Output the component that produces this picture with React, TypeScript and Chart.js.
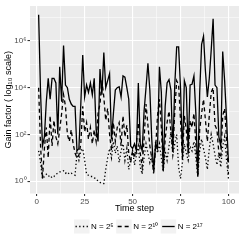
import React, { useEffect, useRef } from 'react';
import { Chart, registerables } from 'chart.js';

Chart.register(...registerables);

// Time steps 1..100 (index axis)
const steps: number[] = Array.from({ length: 100 }, (_, i) => i + 1);

// Gain factor, N = 2^5 (dotted)
const gainN5: number[] = [
  20, 6.3, 1.3, 1.6, 2, 1.6, 1.8, 1.4, 1.6, 2,
  2.2, 2.5, 2.5, 2.8, 2.2, 2.5, 2, 2.2, 2, 1.8,
  16, 7.9, 20, 25, 7.9, 2, 1.8, 1.6, 1.6, 1.4,
  1.3, 1, 0.9, 0.8, 0.8, 3.2, 10, 25, 10, 50,
  16, 32, 6.3, 20, 40, 7.9, 25, 3.2, 7.9, 20,
  5, 13, 32, 4, 2, 10, 40, 16, 6.3, 13,
  2, 50, 16, 40, 10, 2.5, 20, 7.9, 32, 130,
  13, 40, 100, 4, 1.3, 6.3, 40, 16, 7.9, 32,
  20, 50, 10, 1.6, 20, 63, 25, 10, 3.2, 25,
  100, 40, 13, 5, 16, 4, 32, 79, 7.9, 1.3,
];

// Gain factor, N = 2^10 (dashed)
const gainN10: number[] = [
  1e4, 32, 1.3, 25, 200, 10, 630, 32, 400, 79,
  40, 160, 800, 5e3, 1.6e3, 100, 50, 160, 40, 16,
  10, 13, 40, 1.6e3, 130, 320, 63, 200, 40, 160,
  50, 800, 2e3, 2e4, 4e3, 400, 1.3e3, 100, 20, 320,
  50, 200, 320, 32, 630, 79, 250, 16, 6.3, 20,
  10, 40, 320, 16, 4, 63, 2e3, 250, 32, 10,
  2.5, 25, 630, 3.2e3, 200, 3.2, 63, 320, 1e3, 130,
  16, 1e3, 2e4, 1.3e4, 400, 7.9, 630, 160, 13, 400,
  200, 800, 40, 1.6, 160, 800, 3.2e3, 400, 50, 630,
  6.3e3, 1e4, 250, 160, 16, 10, 630, 1.3e3, 63, 2,
];

// Gain factor, N = 2^17 (solid)
const gainN17: number[] = [
  1.3e7, 6.3e3, 32, 79, 2.5e3, 2.5e4, 3.2e3, 2.5e4, 2.5e4, 1.6e4,
  100, 7.9e4, 2.5e3, 6.3e5, 1.3e4, 1e4, 3.2e3, 2e3, 1.6e3, 1.6e3,
  20, 25, 2e3, 2.5e5, 4e3, 1.3e4, 6.3e3, 1.6e4, 5e3, 2.5e4,
  160, 50, 6.3e4, 5e3, 3.2e5, 1e4, 2e4, 4e4, 63, 800,
  7.9e3, 1e4, 1.1e4, 4e3, 3.2e4, 2.8e4, 1e4, 3.2e3, 32, 25,
  40, 20, 1.6e4, 40, 20, 1e3, 1e4, 1.1e5, 7.9e3, 63,
  2.8, 40, 25, 7.9e4, 6.3e3, 2.8, 1.6e3, 1.6e4, 2.2e4, 7.9e3,
  20, 1.3e4, 5.6e5, 5.6e5, 1e4, 13, 2e4, 1e4, 20, 1.3e4,
  1.4e4, 3.2e4, 800, 1.6, 6.3e3, 7.1e5, 1.6e6, 5e4, 4e3, 2.5e4,
  4e5, 8.9e6, 1.3e4, 1e4, 79, 32, 3.5e5, 2e4, 500, 6.3,
];

const seriesLabels: string[] = ['N = 2\u2075', 'N = 2\u00B9\u2070', 'N = 2\u00B9\u2077'];
const xTickValues: number[] = [0, 12.5, 25, 37.5, 50, 62.5, 75, 87.5, 100];
const yTickValues: number[] = [1, 10, 100, 1e3, 1e4, 1e5, 1e6, 1e7];

const SUP: Record<string, string> = {
  '0': '\u2070', '1': '\u00B9', '2': '\u00B2', '3': '\u00B3', '4': '\u2074',
  '5': '\u2075', '6': '\u2076', '7': '\u2077', '8': '\u2078', '9': '\u2079', '-': '\u207B',
};
const sup = (s: string) => s.split('').map((c) => SUP[c] ?? c).join('');

const FONT = '"Liberation Sans", Arial, sans-serif';
const DASHES: number[][] = [[1.3, 2.4], [4, 3], []];

const bgPlugin = {
  id: 'ggBackground',
  beforeDraw(chart: any) {
    const { ctx, chartArea } = chart;
    ctx.save();
    ctx.fillStyle = '#ffffff';
    ctx.fillRect(0, 0, chart.width, chart.height);
    ctx.fillStyle = '#EBEBEB';
    ctx.fillRect(chartArea.left, chartArea.top, chartArea.right - chartArea.left, chartArea.bottom - chartArea.top);
    ctx.restore();
  },
};

const legendPlugin = {
  id: 'ggLegend',
  afterDraw(chart: any) {
    const { ctx } = chart;
    ctx.save();
    ctx.font = `8px ${FONT}`;
    const keyW = 15.5;
    const keyH = 14;
    const cy = 226.5;
    let x = 74;
    chart.data.datasets.forEach((ds: any, i: number) => {
      ctx.fillStyle = '#F2F2F2';
      ctx.fillRect(x, cy - keyH / 2, keyW, keyH);
      ctx.strokeStyle = '#000';
      ctx.lineWidth = 1.3;
      ctx.setLineDash(DASHES[i]);
      ctx.beginPath();
      ctx.moveTo(x + 1.5, cy);
      ctx.lineTo(x + keyW - 1.5, cy);
      ctx.stroke();
      ctx.setLineDash([]);
      ctx.fillStyle = '#000';
      ctx.textAlign = 'left';
      ctx.textBaseline = 'middle';
      const tx = x + keyW + 1.5;
      ctx.fillText(ds.label, tx, cy);
      x = tx + ctx.measureText(ds.label).width + 2.5;
    });
    ctx.restore();
  },
};

export default function App() {
  const ref = useRef<HTMLCanvasElement | null>(null);
  useEffect(() => {
    if (!ref.current) return;
    const series = [gainN5, gainN10, gainN17];
    const chart = new Chart(ref.current, {
      type: 'line',
      data: {
        datasets: series.map((vals, i) => ({
          label: seriesLabels[i],
          data: steps.map((s, j) => ({ x: s, y: vals[j] })),
          borderColor: '#000000',
          borderWidth: 1.3,
          borderDash: DASHES[i],
          pointRadius: 0,
          tension: 0,
          fill: false,
        })),
      },
      options: {
        animation: false,
        responsive: false,
        events: [],
        layout: { padding: { left: 0, right: 6, top: 6, bottom: 30 } },
        plugins: { legend: { display: false }, tooltip: { enabled: false } },
        scales: {
          x: {
            type: 'linear',
            min: -3.5,
            max: 105.5,
            afterBuildTicks: (scale: any) => {
              scale.ticks = xTickValues.map((v) => ({ value: v }));
            },
            afterFit: (scale: any) => {
              scale.height = 21.5;
            },
            grid: {
              color: '#ffffff',
              lineWidth: (ctx: any) => (ctx.tick && ctx.tick.value % 25 === 0 ? 1.1 : 0.5),
              tickColor: (ctx: any) => (ctx.tick && ctx.tick.value % 25 === 0 ? '#333333' : 'rgba(0,0,0,0)'),
              tickLength: 2.5,
              drawTicks: true,
            },
            border: { display: false },
            ticks: {
              autoSkip: false,
              maxRotation: 0,
              padding: 0.5,
              color: '#4D4D4D',
              font: { size: 8, family: FONT },
              callback: (v: any) => (Number(v) % 25 === 0 ? String(v) : ''),
            },
            title: {
              display: true,
              text: 'Time step',
              color: '#000000',
              font: { size: 9, family: FONT },
              padding: { top: 0, bottom: 1 },
            },
          },
          y: {
            type: 'logarithmic',
            min: 0.34,
            max: 3.1e7,
            afterBuildTicks: (scale: any) => {
              scale.ticks = yTickValues.map((v) => ({ value: v }));
            },
            afterFit: (scale: any) => {
              scale.width = 30;
            },
            grid: {
              color: '#ffffff',
              lineWidth: (ctx: any) => {
                const e = ctx.tick ? Math.round(Math.log10(ctx.tick.value)) : 0;
                return e % 2 === 0 ? 1.1 : 0.5;
              },
              tickColor: (ctx: any) => {
                const e = ctx.tick ? Math.round(Math.log10(ctx.tick.value)) : 0;
                return e % 2 === 0 ? '#333333' : 'rgba(0,0,0,0)';
              },
              tickLength: 2.5,
              drawTicks: true,
            },
            border: { display: false },
            ticks: {
              autoSkip: false,
              padding: 1,
              color: '#4D4D4D',
              font: { size: 8, family: FONT },
              callback: (v: any) => {
                const e = Math.round(Math.log10(Number(v)));
                return e % 2 === 0 ? '10' + sup(String(e)) : '';
              },
            },
            title: {
              display: true,
              text: 'Gain factor ( log\u2081\u2080 scale)',
              color: '#000000',
              font: { size: 9, family: FONT },
              padding: { top: 3, bottom: 0 },
            },
          },
        },
      },
      plugins: [bgPlugin, legendPlugin],
    } as any);
    return () => chart.destroy();
  }, []);
  return (
    <div style={{ position: 'absolute', left: 0, top: 0, width: 245, height: 245 }}>
      <canvas ref={ref} width={245} height={245} style={{ width: 245, height: 245, display: 'block' }} />
    </div>
  );
}
